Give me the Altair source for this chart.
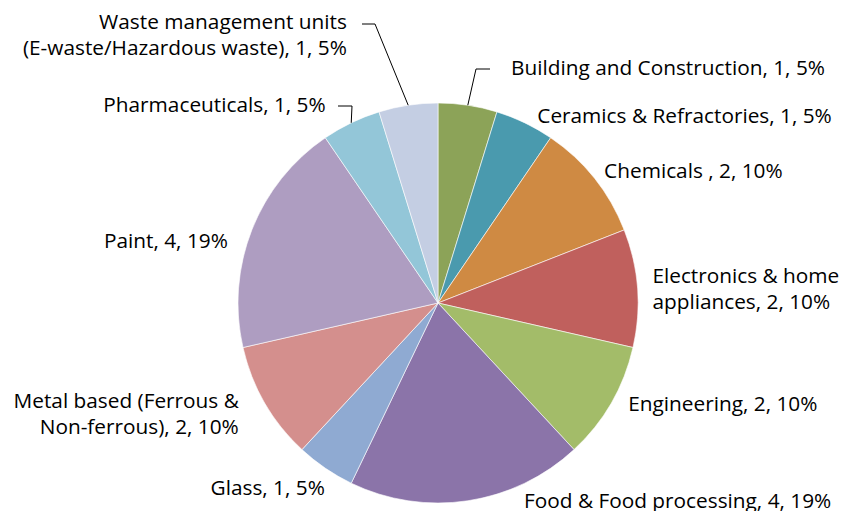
import math
import altair as alt
import pandas as pd

# ---- data ----
categories = [
    "Building and Construction",
    "Ceramics & Refractories",
    "Chemicals ",
    "Electronics & home appliances",
    "Engineering",
    "Food & Food processing",
    "Glass",
    "Metal based (Ferrous & Non-ferrous)",
    "Paint",
    "Pharmaceuticals",
    "Waste management units (E-waste/Hazardous waste)",
]
counts = [1, 1, 2, 2, 2, 4, 1, 2, 4, 1, 1]
percents = ["5%", "5%", "10%", "10%", "10%", "19%", "5%", "10%", "19%", "5%", "5%"]
label_lines = [
    ["Building and Construction, 1, 5%"],
    ["Ceramics & Refractories, 1, 5%"],
    ["Chemicals , 2, 10%"],
    ["Electronics & home", "appliances, 2, 10%"],
    ["Engineering, 2, 10%"],
    ["Food & Food processing, 4, 19%"],
    ["Glass, 1, 5%"],
    ["Metal based (Ferrous &", "Non-ferrous), 2, 10%"],
    ["Paint, 4, 19%"],
    ["Pharmaceuticals, 1, 5%"],
    ["Waste management units", "(E-waste/Hazardous waste), 1, 5%"],
]
colors = ["#8CA358", "#4A9AAE", "#CF8A43", "#C0605D", "#A3BC69", "#8B74A9",
          "#8FAAD2", "#D48F8D", "#AE9DC1", "#93C6D8", "#C4CEE3"]

# ---- layout ----
CX, CY, R = 430, 295, 200
LABEL_R = 215
FONT = "Open Sans"
FS = 20.8
LH = 26
# per-label alignment and nudge (dx, dy)
label_layout = {
    0: ("left", 41, -21),
    1: ("left", 6, 8),
    2: ("left", -2, 3),
    3: ("left", 0, -10),
    4: ("left", 4, -6),
    5: ("left", 54, -14),
    6: ("right", 8, 8),
    7: ("right", -13, -9),
    8: ("right", -10, 18),
    9: ("right", -19, -3),
    10: ("right", -59, -67),
}
# leader lines: (category index, elbow point, end point) in chart pixels
leaders = [
    (0, (468, 61), (482, 61)),
    (9, (344, 98), (330, 98)),
    (10, (367, 16), (354, 16)),
]

total = sum(counts)
cum = []
s = 0
for c in counts:
    cum.append(s + c / 2)
    s += c

df = pd.DataFrame({
    "category": categories,
    "count": counts,
    "idx": list(range(len(categories))),
    "mid": cum,
    "label": label_lines,
})

color_scale = alt.Scale(domain=categories, range=colors)

pie = alt.Chart(df).mark_arc(outerRadius=R, stroke="#ffffff", strokeWidth=0.6).encode(
    theta=alt.Theta("count:Q", stack=True),
    order=alt.Order("idx:Q"),
    color=alt.Color("category:N", scale=color_scale, legend=None),
    x=alt.value(CX),
    y=alt.value(CY),
)

layers = [pie]
for i, (align, dx, dy) in label_layout.items():
    t = alt.Chart(df).transform_filter(alt.datum.idx == i).mark_text(
        align=align, baseline="middle", dx=dx, dy=dy, font=FONT, fontSize=FS,
        color="#000000", lineHeight=LH,
    ).encode(
        theta=alt.Theta("mid:Q", stack=None, scale=alt.Scale(domain=[0, total], range=[0, 2 * math.pi])),
        radius=alt.value(LABEL_R),
        text=alt.Text("label"),
        x=alt.value(CX),
        y=alt.value(CY),
    )
    layers.append(t)

rows = []
for k, (i, elbow, end) in enumerate(leaders):
    a = cum[i] / total * 2 * math.pi
    p0 = (CX + R * math.sin(a), CY - R * math.cos(a))
    for j, p in enumerate([p0, elbow, end]):
        rows.append({"seg": k, "o": j, "px": p[0], "py": p[1]})
ldf = pd.DataFrame(rows)
lines = alt.Chart(ldf).mark_line(color="#000000", strokeWidth=1).encode(
    x=alt.X("px:Q", scale=None, axis=None),
    y=alt.Y("py:Q", scale=None, axis=None),
    detail="seg:N",
    order="o:Q",
)
layers.append(lines)

chart = alt.layer(*layers).properties(
    width=831, height=503, padding=0,
    autosize=alt.AutoSizeParams(type="none"),
).configure_view(stroke=None)

chart.save("out.html", embed_options={"renderer": "svg", "actions": False})
